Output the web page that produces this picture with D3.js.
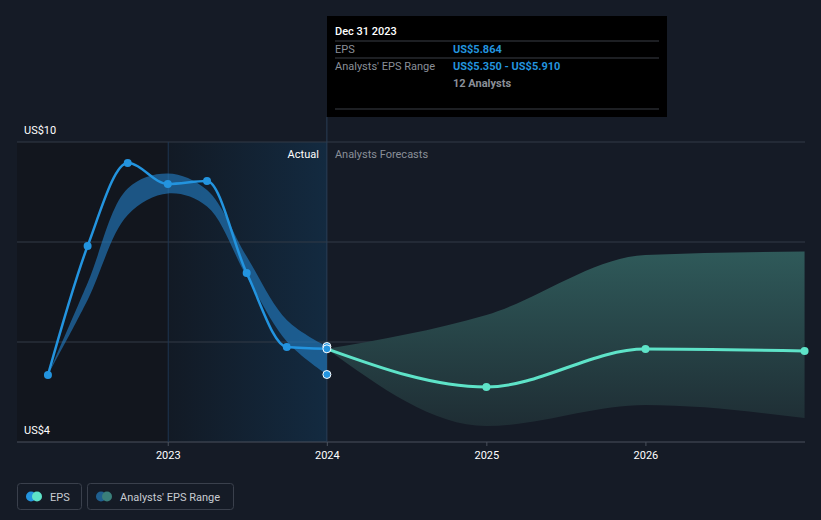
<!DOCTYPE html>
<html>
<head>
<meta charset="utf-8">
<script src="https://cdn.jsdelivr.net/npm/d3@7"></script>
<style>
  body { margin: 0; background: #151b26; }
  svg { display: block; font-family: Roboto, "Noto Sans", sans-serif; }
</style>
</head>
<body>
<div id="chart"></div>
<script>
// EPS history (trailing, quarterly) and analyst forecasts
var pastDates = ["2022-03-31", "2022-06-30", "2022-09-30", "2022-12-31",
                 "2023-03-31", "2023-06-30", "2023-09-30", "2023-12-31"];
var pastEps = [5.34, 7.92, 9.58, 9.16, 9.22, 7.38, 5.90, 5.864];
var pastLow = [5.34, 6.84, 8.54, 8.97, 8.71, 7.31, 6.01, 5.35];
var pastHigh = [5.34, 7.18, 9.07, 9.37, 9.04, 7.71, 6.44, 5.91];

var fcDates = ["2023-12-31", "2024-12-31", "2025-12-31", "2026-12-31"];
var fcEps = [5.864, 5.10, 5.86, 5.82];
var fcLow = [5.864, 4.32, 4.74, 4.48];
var fcHigh = [5.864, 6.54, 7.74, 7.81];

var yTicks = [4, 6, 8, 10];
var xTickYears = [2023, 2024, 2025, 2026];

var width = 821, height = 520;
var plotLeft = 17, plotRight = 805, plotTop = 142, plotBottom = 442;

var parse = d3.timeParse("%Y-%m-%d");

var x = d3.scaleTime()
    .domain([new Date(2022, 0, 19), new Date(2027, 0, 1)])
    .range([plotLeft, plotRight]);
var y = d3.scaleLinear().domain([4, 10]).range([plotBottom, plotTop]);

var svg = d3.select("#chart").append("svg")
    .attr("width", width)
    .attr("height", height);

var defs = svg.append("defs");
var hl = defs.append("linearGradient").attr("id", "hl")
    .attr("x1", "0").attr("x2", "1").attr("y1", "0").attr("y2", "0");
hl.append("stop").attr("offset", "0%").attr("stop-color", "#121a25");
hl.append("stop").attr("offset", "100%").attr("stop-color", "#132a40");

var fg = defs.append("linearGradient").attr("id", "fcband")
    .attr("gradientUnits", "userSpaceOnUse")
    .attr("x1", 0).attr("x2", 0).attr("y1", 250).attr("y2", 430);
fg.append("stop").attr("offset", "0%").attr("stop-color", "#2f5a5a");
fg.append("stop").attr("offset", "100%").attr("stop-color", "#1e2c33");

var today = x(parse("2023-12-31"));
var x2023 = x(new Date(2023, 0, 1));

// background zones
svg.append("rect")
    .attr("x", plotLeft).attr("y", plotTop)
    .attr("width", x2023 - plotLeft).attr("height", plotBottom - plotTop)
    .attr("fill", "#12161e");
svg.append("rect")
    .attr("x", x2023).attr("y", plotTop)
    .attr("width", today - x2023).attr("height", plotBottom - plotTop)
    .attr("fill", "url(#hl)");

// grid lines
svg.selectAll(".grid")
    .data(yTicks)
    .enter().append("line")
    .attr("x1", plotLeft).attr("x2", plotRight)
    .attr("y1", function(d) { return y(d); })
    .attr("y2", function(d) { return y(d); })
    .attr("stroke", function(d) { return d == 4 ? "#4a505c" : "#333a46"; })
    .attr("stroke-width", 1);

// year separator in past zone
svg.append("line")
    .attr("x1", x2023).attr("x2", x2023)
    .attr("y1", plotTop).attr("y2", plotBottom)
    .attr("stroke", "#1f3550");

// today line
svg.append("line")
    .attr("x1", today).attr("x2", today)
    .attr("y1", 117).attr("y2", plotBottom)
    .attr("stroke", "#2a3d55");

// y labels
svg.append("text").attr("x", 24).attr("y", y(10) - 8)
    .attr("fill", "#ffffff").style("font-size", "11px").text("US$10");
svg.append("text").attr("x", 24).attr("y", y(4) - 8)
    .attr("fill", "#ffffff").style("font-size", "11px").text("US$4");

// x axis ticks
var xt = svg.selectAll(".xt")
    .data(xTickYears)
    .enter().append("g")
    .attr("transform", function(d) { return "translate(" + x(new Date(d, 0, 1)) + ",0)"; });
xt.append("line").attr("y1", plotBottom).attr("y2", plotBottom + 4).attr("stroke", "#4a505c");
xt.append("text")
    .attr("y", plotBottom + 17)
    .attr("text-anchor", "middle")
    .attr("fill", "#ffffff")
    .style("font-size", "11px")
    .text(function(d) { return d; });

// bands
var past = pastDates.map(function(d, i) {
    return { date: parse(d), eps: pastEps[i], lo: pastLow[i], hi: pastHigh[i] };
});
var fc = fcDates.map(function(d, i) {
    return { date: parse(d), eps: fcEps[i], lo: fcLow[i], hi: fcHigh[i] };
});

var band = d3.area()
    .x(function(d) { return x(d.date); })
    .y0(function(d) { return y(d.lo); })
    .y1(function(d) { return y(d.hi); })
    .curve(d3.curveMonotoneX);
var pastBand = d3.area()
    .x(function(d) { return x(d.date); })
    .y0(function(d) { return y(d.lo); })
    .y1(function(d) { return y(d.hi); })
    .curve(d3.curveCatmullRom.alpha(0.5));
var line = d3.line()
    .x(function(d) { return x(d.date); })
    .y(function(d) { return y(d.eps); })
    .curve(d3.curveMonotoneX);

svg.append("path").datum(fc)
    .attr("d", band)
    .attr("fill", "url(#fcband)");
svg.append("path").datum(past)
    .attr("d", pastBand)
    .attr("fill", "#2380c8")
    .attr("fill-opacity", 0.6);

// lines
svg.append("path").datum(fc)
    .attr("d", line)
    .attr("fill", "none")
    .attr("stroke", "#5ee3c8")
    .attr("stroke-width", 3);
svg.append("path").datum(past)
    .attr("d", line)
    .attr("fill", "none")
    .attr("stroke", "#2394df")
    .attr("stroke-width", 2.5);

// points
svg.selectAll(".pp")
    .data(past.slice(0, past.length - 1))
    .enter().append("circle")
    .attr("cx", function(d) { return x(d.date); })
    .attr("cy", function(d) { return y(d.eps); })
    .attr("r", 4)
    .attr("fill", "#2394df");
svg.selectAll(".fp")
    .data(fc.slice(1))
    .enter().append("circle")
    .attr("cx", function(d) { return x(d.date); })
    .attr("cy", function(d) { return y(d.eps); })
    .attr("r", 4)
    .attr("fill", "#5ee3c8");

var lastP = past[past.length - 1];
[lastP.hi, lastP.eps, lastP.lo].forEach(function(v) {
    svg.append("circle")
        .attr("cx", x(lastP.date))
        .attr("cy", y(v))
        .attr("r", 4)
        .attr("fill", "#2394df")
        .attr("stroke", "#ffffff")
        .attr("stroke-width", 1);
});

// zone labels
svg.append("text").attr("x", today - 8).attr("y", 158)
    .attr("text-anchor", "end").attr("fill", "#ffffff")
    .style("font-size", "11px").text("Actual");
svg.append("text").attr("x", today + 8).attr("y", 158)
    .attr("fill", "#8a8f98")
    .style("font-size", "11px").text("Analysts Forecasts");

// tooltip
var tip = svg.append("g").attr("transform", "translate(327,16)");
tip.append("rect").attr("width", 340).attr("height", 101).attr("fill", "#000000");
tip.append("text").attr("x", 8).attr("y", 19)
    .attr("fill", "#ffffff").style("font-size", "11px").style("font-weight", "500")
    .text("Dec 31 2023");
[25, 42, 93].forEach(function(ly) {
    tip.append("line").attr("x1", 8).attr("x2", 332)
        .attr("y1", ly).attr("y2", ly).attr("stroke", "#3a3f47");
});
tip.append("text").attr("x", 8).attr("y", 37)
    .attr("fill", "#8a8f98").style("font-size", "11px").text("EPS");
tip.append("text").attr("x", 126).attr("y", 37)
    .attr("fill", "#2394df").style("font-size", "11px").style("font-weight", "bold")
    .text("US$5.864");
tip.append("text").attr("x", 8).attr("y", 54)
    .attr("fill", "#8a8f98").style("font-size", "11px").text("Analysts' EPS Range");
tip.append("text").attr("x", 126).attr("y", 54)
    .attr("fill", "#2394df").style("font-size", "11px").style("font-weight", "bold")
    .text("US$5.350 - US$5.910");
tip.append("text").attr("x", 126).attr("y", 71)
    .attr("fill", "#8a8f98").style("font-size", "11px").style("font-weight", "bold")
    .text("12 Analysts");

// legend
var legend = svg.append("g").attr("transform", "translate(0,483)");
var items = [
    { x: 17, w: 64, label: "EPS", c1: "#2394df", c2: "#5ee3c8" },
    { x: 87, w: 146, label: "Analysts' EPS Range", c1: "#1f5f8f", c2: "#3a7f7a" }
];
items.forEach(function(it) {
    var g = legend.append("g").attr("transform", "translate(" + it.x + ",0)");
    g.append("rect").attr("x", 0.5).attr("y", 0.5)
        .attr("width", it.w).attr("height", 26).attr("rx", 3)
        .attr("fill", "none").attr("stroke", "#3a404c");
    g.append("circle").attr("cx", 14).attr("cy", 13.5).attr("r", 5).attr("fill", it.c1);
    g.append("circle").attr("cx", 20).attr("cy", 13.5).attr("r", 5).attr("fill", it.c2);
    g.append("text").attr("x", 33).attr("y", 17.5)
        .attr("fill", "#c8ccd2").style("font-size", "11px").text(it.label);
});
</script>
</body>
</html>
